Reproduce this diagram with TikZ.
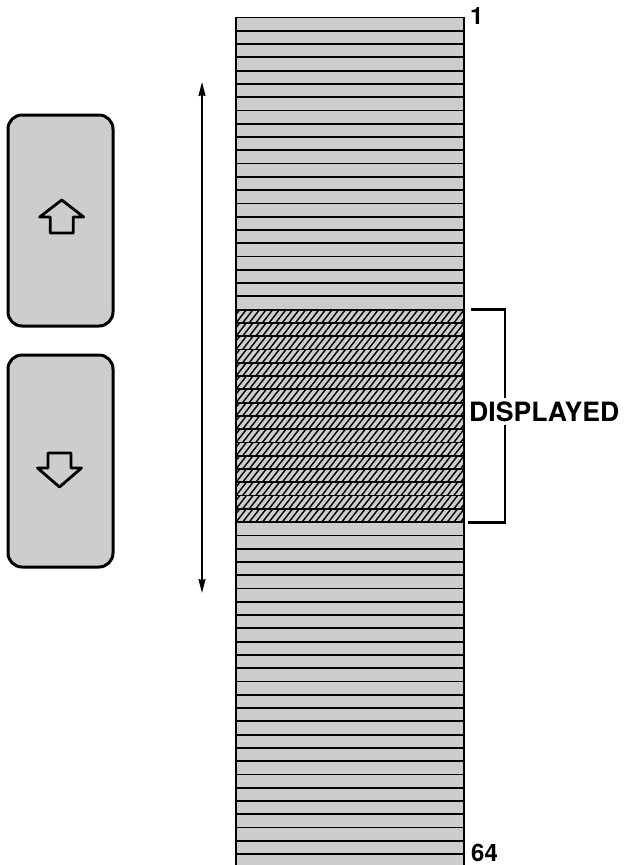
\documentclass[tikz,border=0pt]{standalone}
\usepackage{fontspec}
\setmainfont{TeX Gyre Heros}
\usetikzlibrary{arrows.meta,calc}
\definecolor{paper}{HTML}{CDCDCD}
\begin{document}
\begin{tikzpicture}[x=1pt,y=-1pt,
  rowbox/.style={draw,line width=1.8pt,fill=paper,minimum width=228pt,
    minimum height=13.28pt,inner sep=0pt,outer sep=0pt},
  shownrow/.style={rowbox,path picture={
    \foreach \k in {-3,...,36}{
      \draw[black,line width=1.4pt]
        ($(path picture bounding box.south west)+(\k*6.6,0)$) -- ++(52:24pt);}}},
  keybox/.style={draw,line width=3pt,fill=paper,rounded corners=14pt,
    minimum width=105pt,inner sep=0pt},
  icon/.style={draw,line width=2.8pt,line join=round,fill=paper},
  numlabel/.style={font=\bfseries\fontsize{24}{28}\selectfont,inner sep=0pt,anchor=base west},
  span/.style={line width=1.6pt,{Stealth[length=14pt,width=7pt,inset=1pt]}-{Stealth[length=14pt,width=7pt,inset=1pt]}},
  bracket/.style={line width=2.8pt,line join=miter}
]
\fill[white] (0,0) rectangle (624,865);
\useasboundingbox (0,0) rectangle (624,865);

% the 64 lines of the list
\foreach \i in {1,...,22}
  \node[rowbox] (r\i) at (350,{17.5+(\i-0.5)*13.28}) {};
\foreach \i in {23,...,38}
  \node[shownrow] (r\i) at (350,{17.5+(\i-0.5)*13.28}) {};
\foreach \i in {39,...,64}
  \node[rowbox] (r\i) at (350,{17.5+(\i-0.5)*13.28}) {};

% line numbers
\node[numlabel] (n1) at (470,24.5) {1};
\node[numlabel] (n64) at (471,861) {64};

% bracket round the lines on screen
\coordinate (bt1) at ($(r23.north east)+(7,0)$);
\coordinate (bt2) at ($(r23.north east)+(41,0)$);
\coordinate (bb2) at ($(r38.south east)+(41,0)$);
\coordinate (bb1) at ($(r38.south east)+(4,0)$);
\draw[bracket] (bt1) -- (bt2) -- (bb2) -- (bb1);
\node[font=\bfseries\fontsize{26.6}{30}\selectfont,fill=white,inner xsep=0pt,
  inner ysep=3.5pt,anchor=base west] (disp) at (469,421.5) {DISPLAYED};

% scrolling range
\coordinate (stop) at (202,82);
\coordinate (sbot) at (202,593);
\draw[span] (stop) -- (sbot);

% scroll keys
\node[keybox,minimum height=211pt] (up) at (60.5,220.5) {};
\node[keybox,minimum height=212pt] (down) at (60.5,461) {};

\draw[icon] ($(up.center)+(1.2,-20.5)$) -- ++(22,17) -- ++(-10.5,0) -- ++(0,16)
  -- ++(-23,0) -- ++(0,-16) -- ++(-10.5,0) -- cycle;
\draw[icon] ($(down.center)+(-1,26)$) -- ++(22,-19) -- ++(-10.5,0) -- ++(0,-15)
  -- ++(-23,0) -- ++(0,15) -- ++(-10.5,0) -- cycle;
\end{tikzpicture}
\end{document}
